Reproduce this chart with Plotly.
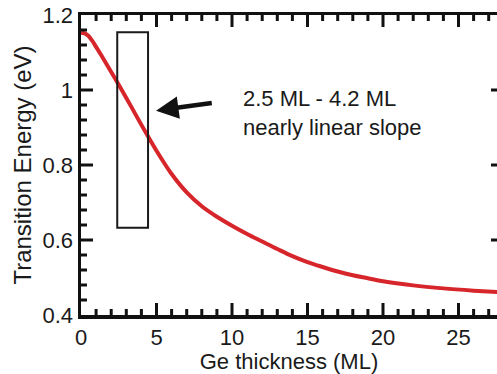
import plotly.graph_objects as go

# Data
ge_thickness = [0, 0.25, 0.5, 0.75, 1, 1.5, 2, 2.5, 3, 3.5, 4, 4.5, 5, 5.5, 6, 7, 8, 9, 10, 11, 12,
                13, 14, 15, 16, 17, 18, 19, 20, 22, 24, 26, 28]
transition_energy = [1.153, 1.151, 1.144, 1.131, 1.115, 1.082, 1.048, 1.014, 0.979, 0.943, 0.907,
                     0.872, 0.838, 0.806, 0.776, 0.727, 0.690, 0.662, 0.638, 0.616, 0.596,
                     0.576, 0.557, 0.541, 0.528, 0.516, 0.506, 0.498, 0.490, 0.479, 0.471,
                     0.465, 0.460]

box_x = [2.4, 4.44]
box_y = [0.633, 1.154]
arrow_tip = [4.97, 0.945]
arrow_tail = [8.76, 0.966]
note_text = "2.5 ML - 4.2 ML<br>nearly linear slope"
note_pos = [10.6, 0.938]

x_range = [0, 27.55]
y_range = [0.4, 1.2]
x_ticks = [0, 5, 10, 15, 20, 25]
x_minor_ticks = [v for v in range(1, 28) if v % 5 != 0]
y_ticks = [0.4, 0.6, 0.8, 1.0, 1.2]
y_tick_labels = ["0.4", "0.6", "0.8", "1", "1.2"]
y_minor_ticks = [round(0.4 + 0.04 * i, 2) for i in range(1, 20) if i % 5 != 0]

FONT = "Liberation Sans, Arial, sans-serif"
TXT = "#1a1a1a"
AX = "#111111"

PLOT_W, PLOT_H = 416, 300  # plot-area size in px, used to size tick marks
MAJ, MIN = 12, 6

fig = go.Figure()
fig.add_trace(go.Scatter(x=ge_thickness, y=transition_energy, mode="lines",
                         line=dict(color="#d7262b", width=4, shape="spline", smoothing=1.0),
                         hoverinfo="skip", showlegend=False))

fig.add_shape(type="rect", xref="x", yref="y", x0=box_x[0], x1=box_x[1], y0=box_y[0], y1=box_y[1],
              line=dict(color="#1a1a1a", width=2), fillcolor="rgba(0,0,0,0)", layer="above")

tick_line = dict(color=AX, width=3)


def x_tick(xv, length):
    fig.add_shape(type="line", xref="x", yref="y domain", x0=xv, x1=xv, y0=0, y1=length / PLOT_H,
                  line=tick_line, layer="above")
    fig.add_shape(type="line", xref="x", yref="y domain", x0=xv, x1=xv, y0=1, y1=1 - length / PLOT_H,
                  line=tick_line, layer="above")


for xt in x_minor_ticks:
    x_tick(xt, MIN)
for xt in x_ticks[1:]:
    x_tick(xt, MAJ)
for yt in y_minor_ticks:
    fig.add_shape(type="line", xref="x domain", yref="y", x0=0, x1=MIN / PLOT_W, y0=yt, y1=yt,
                  line=tick_line, layer="above")
for yt in y_ticks[1:-1]:
    fig.add_shape(type="line", xref="x domain", yref="y", x0=0, x1=MAJ / PLOT_W, y0=yt, y1=yt,
                  line=tick_line, layer="above")
    # right-side major ticks (the right axis itself lies just beyond the crop)
    fig.add_shape(type="line", xref="x domain", yref="y", x0=1.0, x1=1 - MIN / PLOT_W, y0=yt, y1=yt,
                  line=tick_line, layer="above")

fig.add_annotation(x=arrow_tip[0], y=arrow_tip[1], ax=arrow_tail[0], ay=arrow_tail[1],
                   xref="x", yref="y", axref="x", ayref="y", text="", showarrow=True,
                   arrowhead=2, arrowsize=1.0, arrowwidth=4.5, arrowcolor="#111111", standoff=0)
fig.add_annotation(x=note_pos[0], y=note_pos[1], xref="x", yref="y", text=note_text,
                   showarrow=False, xanchor="left", yanchor="middle", align="left",
                   font=dict(family=FONT, size=22, color=TXT))

fig.update_layout(
    template="none",
    width=497, height=374,
    margin=dict(l=81, r=0, t=15, b=59, pad=0),
    paper_bgcolor="white", plot_bgcolor="white",
    font=dict(family=FONT, size=22, color=TXT),
    xaxis=dict(range=x_range, tickmode="array", tickvals=x_ticks, automargin=False,
               ticks="", showline=True, linewidth=3.5, linecolor=AX, mirror=True,
               showgrid=False, zeroline=False,
               tickfont=dict(family=FONT, size=22, color=TXT),
               title=dict(text="Ge thickness (ML)", font=dict(family=FONT, size=22, color=TXT), standoff=10)),
    yaxis=dict(range=y_range, tickmode="array", tickvals=y_ticks, ticktext=y_tick_labels,
               automargin=False, ticks="", showline=True, linewidth=3.5, linecolor=AX,
               showgrid=False, zeroline=False,
               tickfont=dict(family=FONT, size=22, color=TXT),
               title=dict(text="Transition Energy (eV)", font=dict(family=FONT, size=24, color=TXT), standoff=5)),
)

# remove the default page margin so the figure fills the window exactly
fig.write_html("out.html", config={"displayModeBar": False, "staticPlot": True},
               post_script="document.body.style.margin='0px';document.body.style.overflow='hidden';")
